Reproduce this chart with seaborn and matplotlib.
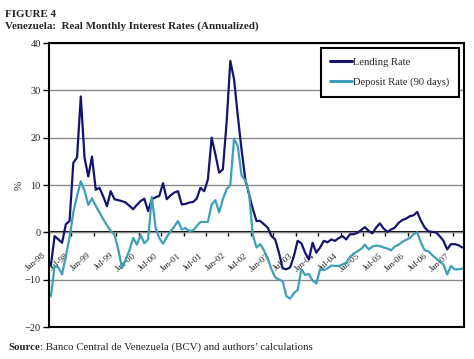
import matplotlib
matplotlib.use('Agg')
import matplotlib.pyplot as plt
import matplotlib.transforms as mtransforms
import seaborn as sns
import pandas as pd
import numpy as np

# Real monthly interest rates (annualized, %), Jan-98 .. Mar-07
lending = [
    -7.0, -0.8, -1.5, -2.2, 1.7, 2.4, 14.7, 15.8, 28.7, 15.8, 11.8, 16.0,   # 1998
    9.0, 9.4, 7.6, 5.5, 8.7, 7.0, 6.8, 6.6, 6.3, 5.6, 4.9, 5.8,             # 1999
    6.6, 7.1, 4.5, 7.0, 7.4, 7.7, 10.4, 7.0, 7.8, 8.4, 8.7, 5.9,            # 2000
    6.0, 6.3, 6.4, 7.1, 9.4, 8.7, 11.2, 20.0, 16.5, 12.6, 13.3, 23.2,       # 2001
    36.2, 32.3, 24.6, 17.5, 11.2, 8.0, 5.0, 2.4, 2.4, 1.7, 1.0, -0.8,       # 2002
    -1.5, -4.3, -7.6, -7.8, -7.4, -5.0, -1.8, -2.3, -4.3, -5.7, -2.2, -4.3, # 2003
    -3.2, -1.8, -2.1, -1.5, -1.8, -1.2, -0.8, -1.5, -0.4, -0.4, -0.1, 0.5,  # 2004
    1.1, 0.3, -0.2, 1.0, 1.9, 0.8, 0.1, 0.6, 1.0, 2.0, 2.6, 2.9,            # 2005
    3.4, 3.6, 4.3, 2.4, 1.0, 0.2, 0.1, 0.0, -0.8, -1.8, -3.6, -2.5,         # 2006
    -2.5, -2.7, -3.2,                                                       # 2007
]
deposit = [
    -13.5, -7.1, -7.4, -8.9, -5.0, -1.0, 4.2, 7.7, 10.8, 8.8, 5.8, 7.2,
    5.6, 4.2, 2.8, 1.5, 0.3, -0.5, -3.5, -7.5, -5.8, -3.8, -1.2, -2.6,
    -0.6, -2.3, -1.5, 7.5, 1.0, -1.2, -2.4, -1.0, 0.2, 1.2, 2.4, 0.6,
    0.9, 0.3, 0.4, 1.3, 2.2, 2.2, 2.2, 5.9, 6.8, 4.2, 7.0, 9.1,
    10.0, 19.8, 18.2, 12.0, 11.0, 8.4, -0.5, -3.2, -2.5, -3.8, -5.5, -7.8,
    -9.5, -10.0, -10.3, -13.5, -14.0, -12.8, -12.2, -7.8, -9.0, -8.8, -10.2, -10.8,
    -7.8, -8.0, -7.6, -7.0, -7.1, -7.1, -6.8, -6.4, -5.2, -4.5, -4.0, -3.5,
    -2.6, -3.6, -3.0, -2.8, -2.9, -3.2, -3.4, -3.8, -3.0, -2.6, -2.0, -1.6,
    -1.2, -0.4, 0.0, -2.2, -3.8, -4.0, -4.8, -5.5, -6.2, -6.8, -8.9, -7.1,
    -7.8, -7.8, -7.7,
]
tick_labels = ['Jan-98', 'Jul-98', 'Jan-99', 'Jul-99', 'Jan-00', 'Jul-00',
               'Jan-01', 'Jul-01', 'Jan-02', 'Jul-02', 'Jan-03', 'Jul-03',
               'Jan-04', 'Jul-04', 'Jan-05', 'Jul-05', 'Jan-06', 'Jul-06',
               'Jan-07']
series_names = ['Lending Rate', 'Deposit Rate (90 days)']
colors = ['#14146e', '#3f9fb8']

n = len(lending)
df = pd.DataFrame({'month': np.arange(n), series_names[0]: lending,
                   series_names[1]: deposit})
df = df.melt(id_vars='month', var_name='series', value_name='rate')

sns.set_theme(style='white')
plt.rcParams['font.family'] = ['Liberation Serif', 'DejaVu Serif']

fig = plt.figure(figsize=(4.74, 3.59), dpi=100)
ax = fig.add_axes([0.1034, 0.0891, 0.8755, 0.7911])

sns.lineplot(data=df, x='month', y='rate', hue='series', hue_order=series_names,
             palette=colors, linewidth=1.6, ax=ax)

ax.set_xlim(-0.5, n - 0.5)
ax.set_ylim(-20, 40)
ax.set_yticks(range(-20, 41, 10))
ax.yaxis.grid(True, color='#8a8a8a', linewidth=1.0)
ax.set_axisbelow(True)
for s in ax.spines.values():
    s.set_color('black')
    s.set_linewidth(1.5)
ax.tick_params(axis='x', bottom=False, labelbottom=False)
ax.tick_params(axis='y', left=True, length=4, width=1, color='black',
               labelsize=7.5, pad=2)
ax.set_xlabel('')
ax.set_ylabel('%', fontsize=8, labelpad=1)

# category axis crossing at zero
sec = ax.secondary_xaxis(1 / 3)
sec.set_xticks(np.arange(0, n, 6) - 0.5, labels=tick_labels, rotation=40,
               ha='right', va='center', rotation_mode='anchor', fontsize=6.5)
sec.tick_params(axis='x', length=3, width=1, color='black', pad=13)
shift = mtransforms.ScaledTranslation(-4 / 100, 0, fig.dpi_scale_trans)
for lab in sec.get_xticklabels():
    lab.set_transform(lab.get_transform() + shift)
for s in sec.spines.values():
    s.set_color('black')
    s.set_linewidth(1.5)

handles, labels = ax.get_legend_handles_labels()
leg = ax.legend(handles, labels, loc='upper right', bbox_to_anchor=(0.988, 0.982),
                frameon=True, fancybox=False, edgecolor='black', framealpha=1,
                fontsize=7.6, handlelength=2.1, handletextpad=0.1,
                labelspacing=1.0, borderpad=0.9, borderaxespad=0)
leg.get_frame().set_linewidth(1.5)
for h in leg.get_lines():
    h.set_linewidth(2.2)

fig.text(0.011, 1 - 17 / 359, 'FIGURE 4', fontsize=7.9, fontweight='bold')
fig.text(0.011, 1 - 29 / 359, 'Venezuela:  Real Monthly Interest Rates (Annualized)',
         fontsize=7.9, fontweight='bold')
src = fig.text(0.017, 1 - 350 / 359, 'Source', fontsize=7.8, fontweight='bold')
ax.annotate(': Banco Central de Venezuela (BCV) and authors\u2019 calculations',
            xy=(1, 0), xycoords=src, va='bottom', ha='left', fontsize=7.8,
            annotation_clip=False)

fig.savefig('out.png', dpi=100)
